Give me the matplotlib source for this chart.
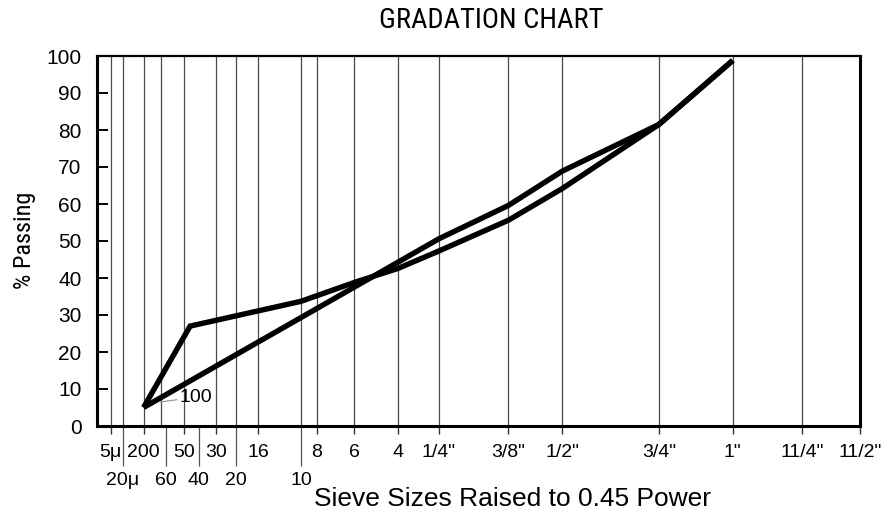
import numpy as np
import matplotlib
matplotlib.use("Agg")
import matplotlib.pyplot as plt

# ---------------- data ----------------
# sieve openings in mm (x axis uses size ** 0.45)
row1_labels = ['5\u03bc', '200', '50', '30', '16', '8', '6', '4', '1/4"', '3/8"',
               '1/2"', '3/4"', '1"', '11/4"', '11/2"']
row1_mm = [0.005, 0.075, 0.3, 0.6, 1.18, 2.36, 3.35, 4.75, 6.3, 9.5,
           12.5, 19.0, 25.0, 31.5, 37.5]
row2_labels = ['20\u03bc', '60', '40', '20', '10']
row2_mm = [0.02, 0.18, 0.425, 0.85, 2.0]
grid_mm = [0.005, 0.02, 0.075, 0.15, 0.3, 0.6, 0.85, 1.18, 2.0, 2.36, 3.35,
           4.75, 6.3, 9.5, 12.5, 19.0, 25.0, 31.5]
note_mm = 0.15          # the "100" sieve, labelled inside the plot
note_label = '100'

# gradation A (curve with the kink near the fine end)
a_mm = [0.075, 0.35, 2.0, 3.35, 4.75, 6.3, 9.5, 12.5, 19.0, 25.0]
a_pass = [5.0, 27.0, 33.7, 38.8, 42.6, 47.3, 55.6, 64.2, 81.5, 98.8]
# gradation B (nearly straight line)
b_mm = [0.075, 4.75, 6.3, 9.5, 12.5, 19.0, 25.0]
b_pass = [5.0, 44.3, 50.6, 59.6, 68.9, 81.5, 98.8]

y_ticks = [0, 10, 20, 30, 40, 50, 60, 70, 80, 90, 100]

# ---------------- figure ----------------
narrow = ['Roboto Condensed', 'DejaVu Sans Condensed', 'Liberation Sans Narrow',
          'Liberation Sans']
plt.rcParams['font.family'] = ['Liberation Sans', 'DejaVu Sans']

fig = plt.figure(figsize=(8.88, 5.15), dpi=100)
ax = fig.add_axes([97/888, 1-426/515, (860-97)/888, (426-56)/515])

fwd = lambda d: np.power(np.clip(d, 0, None), 0.45)
inv = lambda u: np.power(np.clip(u, 0, None), 1/0.45)
ax.set_xscale('function', functions=(fwd, inv))
ax.set_xlim(0, 37.5)
ax.set_ylim(0, 100)

for g in grid_mm:
    ax.axvline(g, color='#4a4a4a', lw=0.9, zorder=1)

lw = 3.9
ax.plot(a_mm, a_pass, color='black', lw=lw, solid_joinstyle='miter',
        solid_capstyle='butt', zorder=3)
ax.plot(b_mm, b_pass, color='black', lw=lw, solid_joinstyle='miter',
        solid_capstyle='butt', zorder=3)

# ticks
ax.set_xticks(row1_mm)
ax.set_xticklabels(row1_labels)
ax.set_xticks(row2_mm, minor=True)
ax.set_xticklabels(row2_labels, minor=True)
ax.tick_params(axis='x', which='major', direction='out', length=6, width=1.0,
               pad=7, labelsize=14, color='#333333')
ax.tick_params(axis='x', which='minor', direction='out', length=29, width=0.9,
               pad=4, labelsize=14, color='#555555')
ax.set_yticks(y_ticks)
ax.tick_params(axis='y', which='major', direction='in', length=8, width=1.4,
               pad=11, labelsize=15)
ax.yaxis.set_minor_locator(matplotlib.ticker.NullLocator())

for s in ['left', 'bottom', 'right']:
    ax.spines[s].set_linewidth(2.2)
ax.spines['top'].set_linewidth(1.6)

# inner "100" sieve label with leader
ax.annotate(note_label, xy=(note_mm, 6.5), xytext=(0.27, 7.8),
            fontsize=14, va='center', ha='left',
            arrowprops=dict(arrowstyle='-', color='#999999', lw=0.9,
                            shrinkA=0, shrinkB=0))

fig.text(491/888, 1-20/515, 'GRADATION CHART', family=narrow, fontsize=20.5,
         fontstretch='condensed', ha='center', va='center')
fig.text(25/888, 1-240/515, '% Passing', family=narrow, fontsize=17.5,
         fontstretch='condensed', ha='center', va='center', rotation=90)
fig.text(512/888, 1-499/515, 'Sieve Sizes Raised to 0.45 Power', fontsize=19,
         ha='center', va='center')

fig.savefig('out.png', dpi=100)
